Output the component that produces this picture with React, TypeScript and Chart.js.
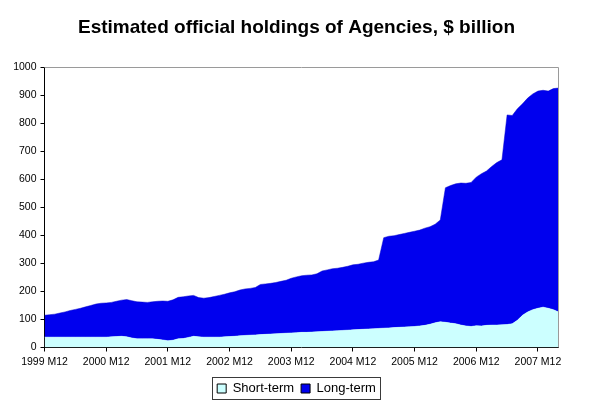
import React, { useEffect, useRef } from "react";
import { Chart, registerables } from "chart.js";

Chart.register(...registerables);

const TITLE = "Estimated official holdings of Agencies, $ billion";
const START_YEAR = 1999;
const START_MONTH = 12;
const SERIES_NAMES = ["Short-term", "Long-term"];
const Y_MIN = 0;
const Y_MAX = 1000;
const Y_STEP = 100;

const shortTerm = [
  37, 37, 37, 37, 37, 37, 37, 37, 37, 37,
  37, 37, 37, 38, 39, 40, 38, 34, 31, 31,
  31, 31, 29, 27, 24, 26, 31, 32, 36, 40,
  38, 37, 37, 37, 37, 38, 39, 40, 42, 43,
  44, 45, 46, 47, 48, 49, 50, 51, 52, 53,
  54, 54, 55, 56, 57, 58, 59, 60, 61, 62,
  63, 64, 65, 66, 67, 68, 69, 70, 71, 72,
  73, 74, 75, 77, 79, 83, 88, 92, 90, 87,
  85, 80, 77, 75, 78, 77, 79, 80, 80, 81,
  82, 85, 97, 115, 127, 135, 140, 144, 140, 135,
  127,
];

const longTerm = [
  78, 80, 82, 86, 90, 95, 99, 103, 108, 113,
  118, 121, 122, 123, 126, 129, 133, 133, 132, 131,
  130, 132, 136, 139, 141, 144, 148, 149, 148, 146,
  140, 139, 141, 145, 149, 152, 156, 159, 163, 166,
  167, 169, 179, 180, 181, 183, 186, 189, 195, 199,
  202, 204, 204, 207, 216, 219, 222, 223, 225, 228,
  232, 233, 236, 238, 239, 244, 323, 327, 328, 331,
  334, 337, 340, 342, 347, 348, 352, 363, 480, 491,
  499, 507, 509, 514, 530, 543, 551, 566, 580, 589,
  748, 743, 755, 755, 763, 770, 775, 774, 775, 789,
  799,
];

const categories = shortTerm.map((_, i) => {
  const k = START_MONTH - 1 + i;
  return `${START_YEAR + Math.floor(k / 12)} M${(k % 12) + 1}`;
});

const FONT = "Arial, 'Liberation Sans', sans-serif";

const framePlugin = {
  id: "frame",
  afterDatasetsDraw(chart: any) {
    const { ctx, chartArea } = chart;
    const { left, right, top, bottom } = chartArea;
    ctx.save();
    ctx.strokeStyle = "#9a9a9a";
    ctx.lineWidth = 1;
    ctx.beginPath();
    ctx.moveTo(left, Math.round(top) + 0.5);
    ctx.lineTo(Math.round(right) - 0.5, Math.round(top) + 0.5);
    ctx.lineTo(Math.round(right) - 0.5, bottom);
    ctx.stroke();
    ctx.restore();
  },
};

const legendBoxPlugin = {
  id: "legendBox",
  afterDraw(chart: any) {
    const lg = chart.legend;
    if (!lg || !lg.legendHitBoxes || !lg.legendHitBoxes.length) return;
    const hb = lg.legendHitBoxes;
    let l = Infinity, r = -Infinity, t = Infinity, b = -Infinity;
    hb.forEach((h: any) => {
      l = Math.min(l, h.left);
      r = Math.max(r, h.left + h.width);
      t = Math.min(t, h.top);
      b = Math.max(b, h.top + h.height);
    });
    const { ctx } = chart;
    ctx.save();
    ctx.strokeStyle = "#3a3a3a";
    ctx.lineWidth = 1;
    ctx.strokeRect(Math.round(l - 5) + 0.5, Math.round(t - 5) + 0.5, Math.round(r - l + 9), Math.round(b - t + 9));
    ctx.restore();
  },
};

export default function App() {
  const ref = useRef<HTMLCanvasElement | null>(null);
  useEffect(() => {
    document.body.style.margin = "0";
    const canvas = ref.current;
    if (!canvas) return;
    const chart = new Chart(canvas, {
      type: "line",
      data: {
        labels: categories,
        datasets: [
          {
            label: SERIES_NAMES[0],
            data: shortTerm,
            fill: "origin",
            backgroundColor: "#CCFFFF",
            borderColor: "#CCFFFF",
            borderWidth: 0.5,
            pointRadius: 0,
            tension: 0,
          },
          {
            label: SERIES_NAMES[1],
            data: longTerm,
            fill: "-1",
            backgroundColor: "#0000EE",
            borderColor: "#0000CC",
            borderWidth: 0.5,
            pointRadius: 0,
            tension: 0,
          },
        ],
      },
      options: {
        responsive: false,
        animation: false,
        layout: { padding: 0 },
        scales: {
          x: {
            type: "category",
            offset: false,
            z: 1,
            grid: {
              drawOnChartArea: false,
              drawTicks: true,
              tickLength: 4,
              color: (c: any) => (categories[c.index] && categories[c.index].endsWith(" M12") ? "#000" : "rgba(0,0,0,0)"),
            },
            border: { display: true, color: "#000", width: 1 },
            ticks: {
              autoSkip: false,
              maxRotation: 0,
              minRotation: 0,
              padding: 4,
              color: "#000",
              font: { family: FONT, size: 10.5 },
              callback: (_v: any, i: number) => (categories[i].endsWith(" M12") ? categories[i] : ""),
            },
            afterFit: (s: any) => {
              s.height = 27.5;
            },
          },
          y: {
            stacked: true,
            min: Y_MIN,
            max: Y_MAX,
            z: 1,
            grid: { drawOnChartArea: false, drawTicks: true, tickLength: 4, color: "#000" },
            border: { display: true, color: "#000", width: 1 },
            ticks: {
              stepSize: Y_STEP,
              padding: 4,
              color: "#000",
              font: { family: FONT, size: 10.5 },
              callback: (v: any) => String(v),
            },
            afterFit: (s: any) => {
              s.width = 44.5;
            },
          },
          yRight: {
            position: "right",
            display: true,
            grid: { display: false, drawTicks: false },
            border: { display: false },
            ticks: { display: false },
            afterFit: (s: any) => {
              s.width = 34.5;
            },
          },
        },
        plugins: {
          title: {
            display: true,
            text: TITLE,
            color: "#000",
            font: { family: FONT, size: 19, weight: "bold" },
            padding: { top: 16, bottom: 28.5 },
          },
          legend: {
            display: true,
            position: "bottom",
            labels: {
              boxWidth: 9,
              boxHeight: 9,
              padding: 7,
              color: "#000",
              font: { family: FONT, size: 13 },
              generateLabels: (ch: any) => {
                const items = Chart.defaults.plugins.legend.labels.generateLabels(ch);
                return items.map((it: any) => ({ ...it, strokeStyle: "#000", lineWidth: 1 }));
              },
            },
          },
          tooltip: { enabled: false },
        },
      },
      plugins: [framePlugin, legendBoxPlugin],
    });
    return () => chart.destroy();
  }, []);
  return (
    <div style={{ width: 593, height: 405, background: "#fff" }}>
      <canvas ref={ref} width={593} height={405} />
    </div>
  );
}
